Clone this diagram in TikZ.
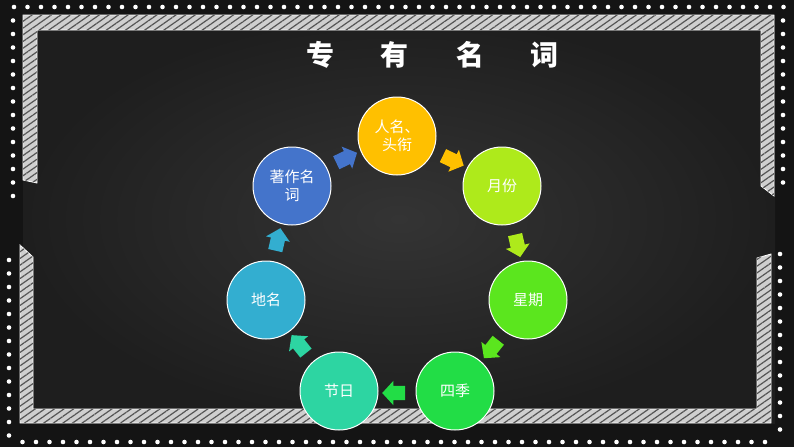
\documentclass[tikz,border=0pt]{standalone}
\usepackage{fontspec}
\newfontfamily\cjk{Noto Sans CJK SC}
\usetikzlibrary{shapes.arrows,patterns.meta}
\definecolor{bgout}{HTML}{141414}
\definecolor{bgin}{HTML}{343434}
\definecolor{bgedge}{HTML}{1E1E1E}
\definecolor{chalk}{HTML}{CFCFCF}
\definecolor{chalkdark}{HTML}{555555}
\definecolor{cA}{HTML}{FFC000}
\definecolor{cB}{HTML}{AEEA1B}
\definecolor{cC}{HTML}{5BE61E}
\definecolor{cD}{HTML}{22DD46}
\definecolor{cE}{HTML}{2DD5A2}
\definecolor{cF}{HTML}{33AED0}
\definecolor{cG}{HTML}{4474CB}
\tikzset{
  chalkband/.style={fill=chalk, draw=white, line width=0.8pt,
    postaction={pattern={Lines[angle=35,distance=5.5pt,line width=1.2pt]}, pattern color=chalkdark}},
  chalkdot/.style={fill=white},
  circ/.style={circle, draw=white, line width=1pt, minimum size=78pt, inner sep=0pt,
    text=white, align=center, font=\cjk\fontsize{15}{18}\selectfont},
  arr/.style={single arrow, minimum height=23pt, inner xsep=0pt, inner ysep=7pt,
    single arrow head extend=5pt, single arrow tip angle=95, draw=none},
  titletext/.style={text=white, font=\cjk\bfseries\fontsize{28}{32}\selectfont}
}
\begin{document}
\begin{tikzpicture}[x=1pt,y=-1pt]
\useasboundingbox (0,0) rectangle (794,447);
\fill[bgout] (0,0) rectangle (794,447);
\shade[inner color=bgin, outer color=bgedge] (23,15) rectangle (775,423);

% chalk frame
\path[chalkband] (23,15) -- (774,15) -- (774,196) -- (761,186) -- (761,30) -- (37,30) -- (37,183) -- (23,180) -- cycle;
\path[chalkband] (20,245) -- (33,257) -- (33,409) -- (757,409) -- (757,258) -- (771,254) -- (771,423) -- (20,423) -- cycle;

% dots
\foreach \i in {0,...,57} \fill[chalkdot] ({14+13.5*\i},7) circle (2.3);
\foreach \i in {1,...,14} \fill[chalkdot] (13,{7+13.5*\i}) circle (2.3);
\foreach \i in {0,...,13} \fill[chalkdot] (9,{260+13.5*\i}) circle (2.3);
\foreach \i in {1,...,56} \fill[chalkdot] ({9+13.5*\i},442) circle (2.3);
\foreach \i in {1,...,13} \fill[chalkdot] (783,{7+13.5*\i}) circle (2.3);
\foreach \i in {0,...,13} \fill[chalkdot] (780,{254+13.5*\i}) circle (2.3);

% title
\node[titletext] (title) at (432.5,55) {\makebox[75pt]{专}\makebox[75pt]{有}\makebox[75pt]{名}\makebox[75pt]{词}};

% circles
\node[circ, fill=cA] (n1) at (397,136) {人名、\\头衔};
\node[circ, fill=cB] (n2) at (502,186) {月份};
\node[circ, fill=cC] (n3) at (528,300) {星期};
\node[circ, fill=cD] (n4) at (455,391) {四季};
\node[circ, fill=cE] (n5) at (339,391) {节日};
\node[circ, fill=cF] (n6) at (266,300) {地名};
\node[circ, fill=cG] (n7) at (292,186) {著作名\\词};

% arrows
\node[arr, fill=cG, rotate=25.7]   (a1) at ({397+123*cos(115.7)},{270-123*sin(115.7)}) {};
\node[arr, fill=cA, rotate=-25.7]  (a2) at ({397+123*cos(64.3)},{270-123*sin(64.3)}) {};
\node[arr, fill=cB, rotate=-77.1]  (a3) at ({397+123*cos(12.86)},{270-123*sin(12.86)}) {};
\node[arr, fill=cC, rotate=-128.6] (a4) at ({397+123*cos(-38.57)},{270-123*sin(-38.57)}) {};
\node[arr, fill=cD, rotate=180]    (a5) at ({397+123*cos(-90)},{270-123*sin(-90)}) {};
\node[arr, fill=cE, rotate=128.6]  (a6) at ({397+123*cos(-141.43)},{270-123*sin(-141.43)}) {};
\node[arr, fill=cF, rotate=77.1]   (a7) at ({397+123*cos(167.14)},{270-123*sin(167.14)}) {};
\end{tikzpicture}
\end{document}
